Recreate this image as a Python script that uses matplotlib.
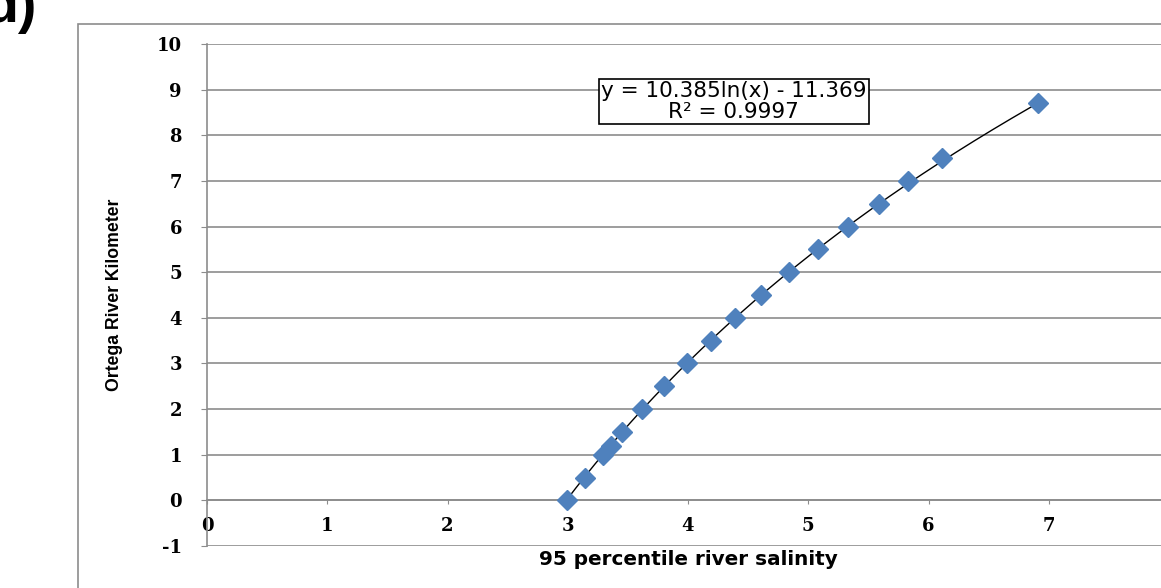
import numpy as np
import matplotlib
matplotlib.use("Agg")
import matplotlib.pyplot as plt
from matplotlib.patches import Rectangle

# readings: 95 percentile salinity vs river km
salinity = [2.99, 3.14, 3.29, 3.36, 3.45, 3.62, 3.80, 3.99, 4.19, 4.39,
            4.61, 4.84, 5.08, 5.33, 5.59, 5.83, 6.11, 6.91]
river_km = [0, 0.5, 1, 1.2, 1.5, 2, 2.5, 3, 3.5, 4,
            4.5, 5, 5.5, 6, 6.5, 7, 7.5, 8.7]

# log trendline reported on the chart
coef_a = 10.385
coef_b = -11.369
r_squared = 0.9997

x_ticks = [0, 1, 2, 3, 4, 5, 6, 7]
y_ticks = [-1, 0, 1, 2, 3, 4, 5, 6, 7, 8, 9, 10]

GRID = "#8c8c8c"
BLUE = "#4f81bd"

fig = plt.figure(figsize=(11.61, 5.88), dpi=100)
W, H = 1161, 588

# Excel chart-area border (cropped on right/bottom)
fig.patches.append(Rectangle((78 / W, -0.2), 1.2, 1 - 24 / H + 0.2,
                             transform=fig.transFigure, fill=False,
                             edgecolor=GRID, linewidth=1.2))

ax = fig.add_axes([207 / W, 42 / H, 962 / W, 502 / H])
ax.set_xlim(0, 8)
ax.set_ylim(-1, 10)

ax.set_yticks(y_ticks)
ax.set_xticks(x_ticks)
ax.yaxis.grid(True, color=GRID, linewidth=1.2)
ax.set_axisbelow(True)

for side in ["top", "right"]:
    ax.spines[side].set_visible(False)
ax.spines["left"].set_color(GRID)
ax.spines["left"].set_linewidth(1.2)
ax.spines["bottom"].set_position(("data", 0))
ax.spines["bottom"].set_color(GRID)
ax.spines["bottom"].set_linewidth(1.2)

tick_font = {"family": "DejaVu Serif", "weight": "bold", "size": 13}
ax.set_xticklabels([str(t) for t in x_ticks], fontdict=tick_font)
ax.set_yticklabels([str(t) for t in y_ticks], fontdict=tick_font)
ax.tick_params(axis="y", direction="out", length=4, color=GRID, pad=14)
ax.tick_params(axis="x", direction="out", length=3, color=GRID, pad=9)

# trendline over data range
xs = np.linspace(min(salinity), max(salinity), 200)
ax.plot(xs, coef_a * np.log(xs) + coef_b, color="black", linewidth=1, zorder=3)

ax.plot(salinity, river_km, linestyle="none", marker="D", markersize=10,
        color=BLUE, markeredgecolor=BLUE, zorder=4)

ax.text(4.38, 8.74, f"y = {coef_a}ln(x) - {abs(coef_b)}\nR² = {r_squared}",
        ha="center", va="center", fontsize=15.5, family="DejaVu Sans",
        linespacing=1.1, zorder=5,
        bbox=dict(boxstyle="square,pad=0.1", facecolor="white",
                  edgecolor="black", linewidth=1.2))

ax.set_xlabel("95 percentile river salinity", fontsize=14.4,
              family="DejaVu Sans", fontweight="bold")
ax.xaxis.set_label_coords(0.5, -0.008)
ax.set_ylabel("Ortega River Kilometer", fontsize=12.7, fontweight="bold",
              family=["Liberation Sans Narrow", "Liberation Sans"])
ax.yaxis.set_label_coords(-0.087, 0.5)

fig.text(37 / W, 1 - 22 / H, "d)", ha="right", va="baseline", fontsize=40,
         fontweight="bold", family="Liberation Sans")

fig.savefig("out.png", dpi=100)
